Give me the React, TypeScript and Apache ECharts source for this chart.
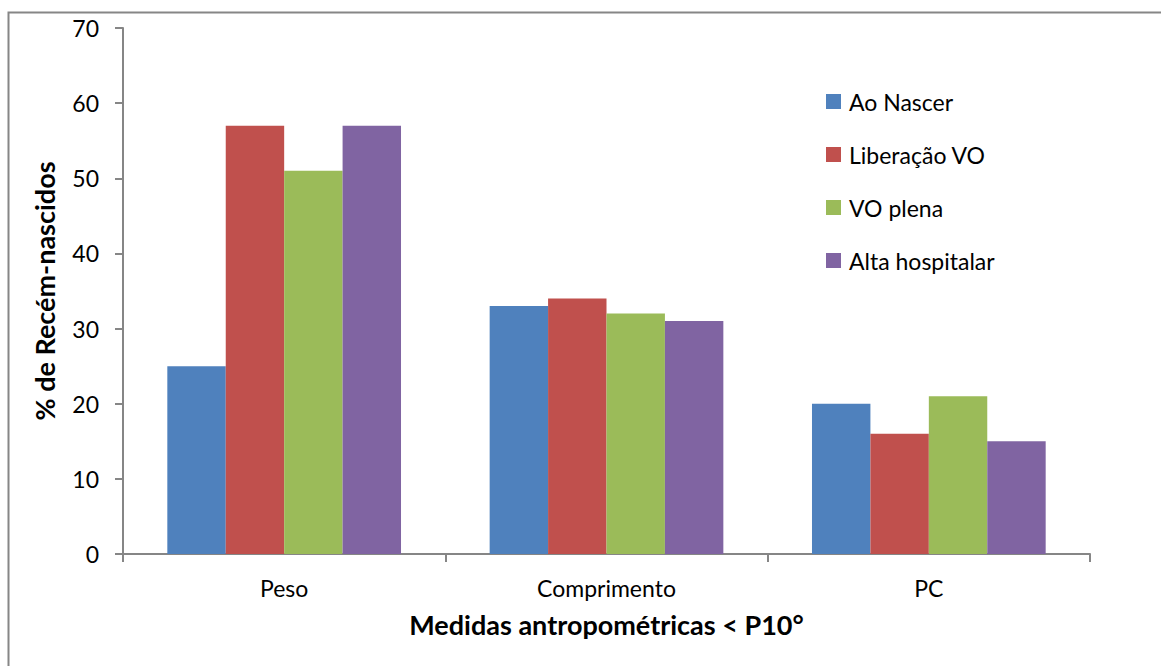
import React, { useEffect, useRef } from "react";
import * as echarts from "echarts";

const categories = ["Peso", "Comprimento", "PC"];
const seriesNames = ["Ao Nascer", "Liberação VO", "VO plena", "Alta hospitalar"];
const aoNascer = [25, 33, 20];
const liberacaoVO = [57, 34, 16];
const voPlena = [51, 32, 21];
const altaHospitalar = [57, 31, 15];
const colors = ["#4F81BD", "#C0504D", "#9BBB59", "#8064A2"];

const FONT = "Lato, 'Open Sans', sans-serif";

export default function App() {
  const ref = useRef<HTMLDivElement>(null);

  useEffect(() => {
    if (!ref.current) return;
    const chart = echarts.init(ref.current, null, { renderer: "svg" });
    const values = [aoNascer, liberacaoVO, voPlena, altaHospitalar];
    chart.setOption({
      animation: false,
      textStyle: { fontFamily: FONT },
      graphic: [
        {
          type: "rect",
          shape: { x: 8.5, y: 12.5, width: 1200, height: 700 },
          style: { fill: "none", stroke: "#868686", lineWidth: 2 },
          silent: true,
        },
      ],
      grid: { left: 123, right: 71, top: 28, bottom: 112 },
      legend: {
        orient: "vertical",
        left: 821,
        top: 85,
        itemWidth: 15,
        itemHeight: 15,
        itemGap: 30,
        icon: "rect",
        data: seriesNames,
        textStyle: { fontFamily: FONT, fontSize: 23, lineHeight: 22, color: "#000", padding: [0, 0, 0, 3] },
      },
      xAxis: {
        type: "category",
        data: categories,
        name: "Medidas antropométricas < P10°",
        nameLocation: "middle",
        nameGap: 57,
        nameTextStyle: { fontFamily: FONT, fontSize: 27, fontWeight: "bold", color: "#000" },
        axisLine: { lineStyle: { color: "#868686", width: 2 } },
        axisTick: { show: true, length: 8, lineStyle: { color: "#868686", width: 2 } },
        axisLabel: { fontFamily: FONT, fontSize: 23, color: "#000", margin: 22 },
      },
      yAxis: {
        type: "value",
        min: 0,
        max: 70,
        interval: 10,
        name: "% de Recém-nascidos",
        nameLocation: "middle",
        nameGap: 65,
        nameTextStyle: { fontFamily: FONT, fontSize: 27, fontWeight: "bold", color: "#000" },
        axisLine: { show: true, lineStyle: { color: "#868686", width: 2 } },
        axisTick: { show: true, length: 8, lineStyle: { color: "#868686", width: 2 } },
        axisLabel: { fontFamily: FONT, fontSize: 23, color: "#000", margin: 24 },
        splitLine: { show: false },
      },
      series: seriesNames.map((name, i) => ({
        name,
        type: "bar",
        data: values[i],
        barGap: "0%",
        barCategoryGap: "27.5%",
        itemStyle: { color: colors[i] },
      })),
    });
    return () => chart.dispose();
  }, []);

  return (
    <div
      ref={ref}
      style={{ position: "absolute", left: 0, top: 0, width: 1161, height: 666, background: "#fff" }}
    />
  );
}
